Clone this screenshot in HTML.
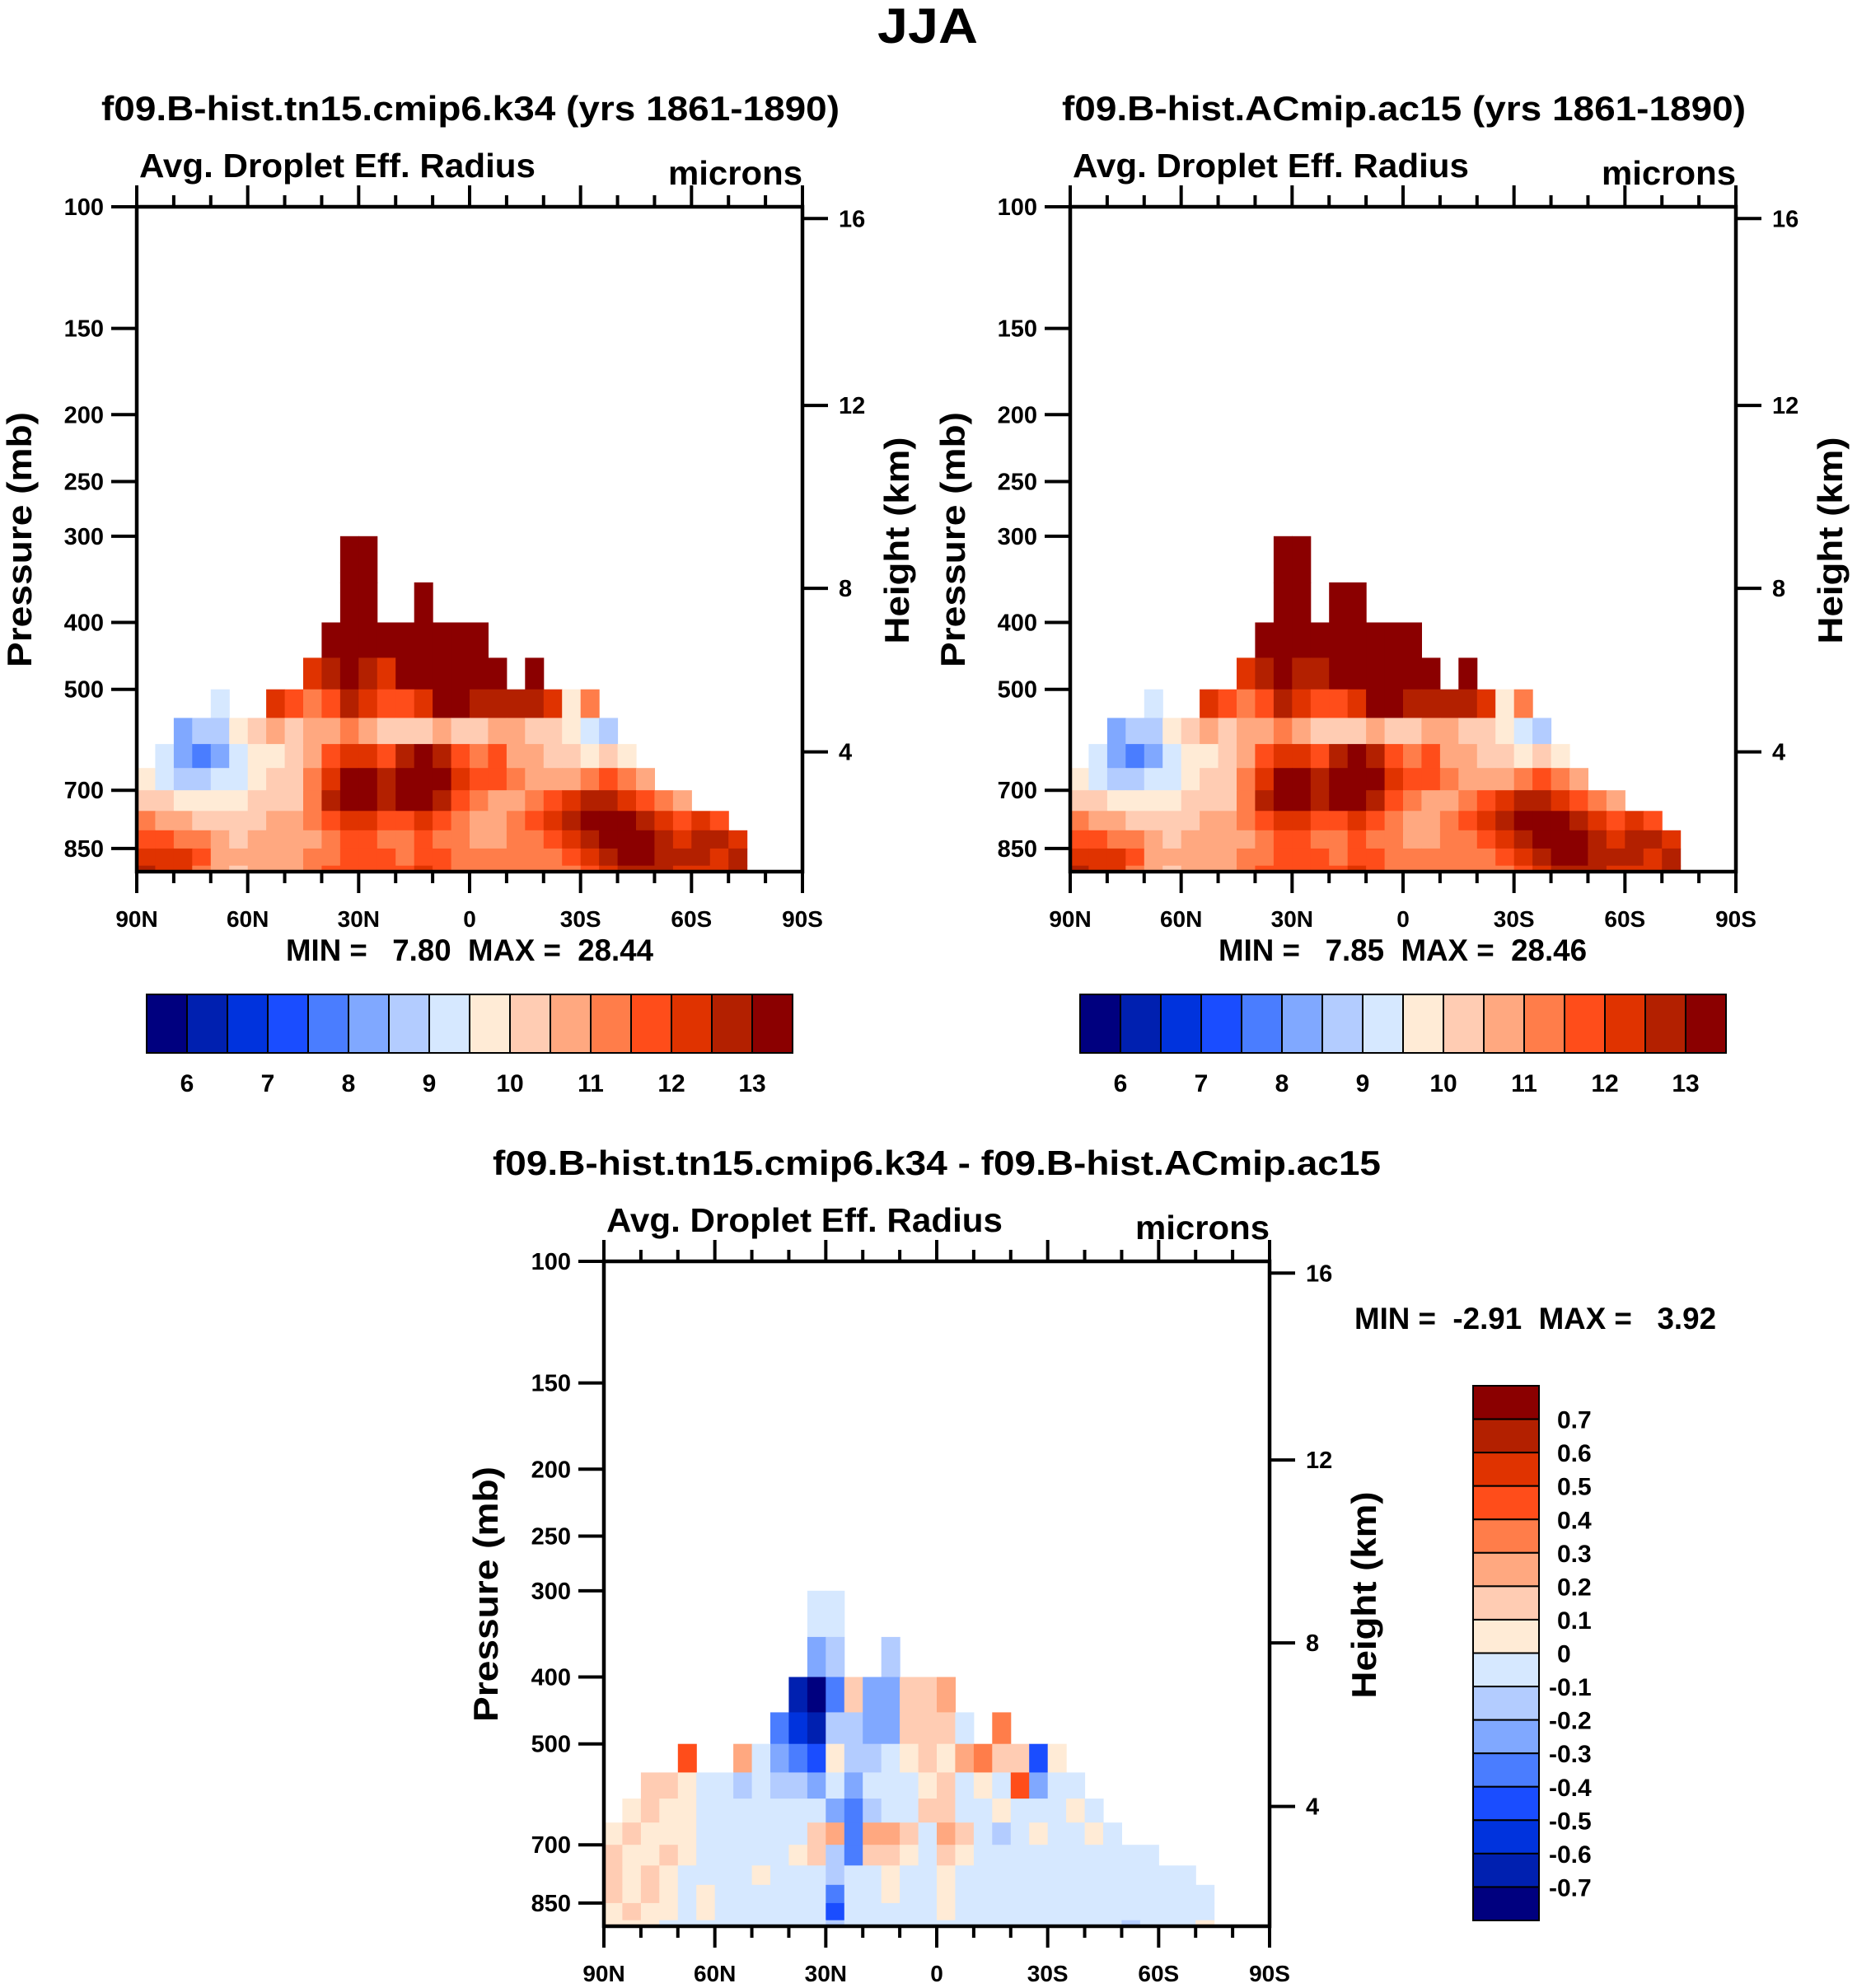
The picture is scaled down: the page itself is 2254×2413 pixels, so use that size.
<!DOCTYPE html>
<html><head><meta charset="utf-8"><style>
html,body{margin:0;padding:0;background:#fff}
svg{display:block}
text{font-family:"Liberation Sans",Arial,sans-serif;font-weight:bold;fill:#000;white-space:pre}
</style></head><body>
<svg id="root" width="2254" height="2413" viewBox="0 0 2254 2413" xmlns="http://www.w3.org/2000/svg" xml:space="preserve">
<rect width="2254" height="2413" fill="#fff"/>
<text x="1126" y="52" font-size="60" text-anchor="middle" textLength="122" lengthAdjust="spacingAndGlyphs">JJA</text>
</svg>
<script>
// ---------- data ----------
const lats = [87.5,82.5,77.5,72.5,67.5,62.5,57.5,52.5,47.5,42.5,37.5,32.5,27.5,22.5,17.5,12.5,7.5,2.5,-2.5,-7.5,-12.5,-17.5,-22.5,-27.5,-32.5,-37.5,-42.5,-47.5,-52.5,-57.5,-62.5,-67.5,-72.5,-77.5,-82.5,-87.5];
const pEdges = [300,350,400,450,500,550,600,650,700,750,800,850,900,919];
const pTicks = [100,150,200,250,300,400,500,700,850];
const heightTicks = [4,8,12,16];
const heightPressure = [616,357,194,104];
const latTicks = [90,60,30,0,-30,-60,-90];
const latTickLabels = ["90N","60N","30N","0","30S","60S","90S"];
const absLevelLabels = ["6","7","8","9","10","11","12","13"];
const diffLevelLabels = ["0.7","0.6","0.5","0.4","0.3","0.2","0.1","0","-0.1","-0.2","-0.3","-0.4","-0.5","-0.6","-0.7"];
const n = null;
const field1 = [
[n,n,n,n,n,n,n,n,n,n,n,15,15,n,n,n,n,n,n,n,n,n,n,n,n,n,n,n,n,n,n,n,n,n,n,n],
[n,n,n,n,n,n,n,n,n,n,n,15,15,n,n,15,n,n,n,n,n,n,n,n,n,n,n,n,n,n,n,n,n,n,n,n],
[n,n,n,n,n,n,n,n,n,n,14,15,15,14,15,15,15,15,15,n,n,n,n,n,n,n,n,n,n,n,n,n,n,n,n,n],
[n,n,n,n,n,n,n,n,n,12,12.5,13,12.5,12,13.5,14,14.5,15,14.5,14,n,13,n,n,n,n,n,n,n,n,n,n,n,n,n,n],
[n,n,n,n,9,n,n,12,11.5,11,11.5,12.5,12,11.5,11.5,12,13,13.5,12.5,12.5,12.5,12.5,12,9.5,11,n,n,n,n,n,n,n,n,n,n,n],
[n,n,8,8.5,8.5,9.5,10,10.5,10,10.5,10.5,11,10.5,10,10.2,10,10.5,10,10.3,10.5,10.5,10.3,10.2,9.5,9,8.7,n,n,n,n,n,n,n,n,n,n],
[n,9,8,7.8,8.2,9,9.5,9.8,10.2,10.8,11.5,12,12,11.5,12.5,13,12.5,11.5,11,11.5,10.7,10.5,10.3,10,9.8,10,9.7,n,n,n,n,n,n,n,n,n],
[9.5,9,8.6,8.7,9,9.3,9.8,10,10.3,11,12,13.2,13.5,12.5,13.5,14,13.5,12,11.5,11.5,11,10.7,10.5,10.7,11,11.5,11,10.5,n,n,n,n,n,n,n,n],
[10,10,9.8,9.5,9.6,9.8,10,10.3,10.4,11,12.5,14,13.5,12.5,13,13.5,12.5,11.5,11,10.8,10.8,11,11.5,12,12.5,12.8,12,11.5,11,10.8,n,n,n,n,n,n],
[11,10.8,10.5,10.3,10.2,10.3,10.4,10.5,10.6,11,11.5,12,12,11.5,11.5,12,11.5,11,10.8,10.8,11,11.5,12,12.5,13.5,14,13.5,12.5,12,11.8,12,11.5,n,n,n,n],
[11.5,11.5,11.3,11,10.5,10.4,10.5,10.6,10.6,10.8,11,11.5,11.8,11.3,11,11.5,11.2,11,10.8,10.8,11,11.2,11.5,12,12.8,13.5,14,13.5,12.5,12.3,12.5,12.5,12.3,n,n,n],
[12.3,12.2,12,11.5,10.8,10.5,10.5,10.6,10.7,11,11.2,11.5,11.8,11.5,11.3,11.5,11.5,11.3,11,11,11,11,11.2,11.5,12,12.5,13,13.2,12.8,12.5,12.5,12.3,12.6,n,n,n],
[12.5,12.3,12,11.3,10.5,10.2,10.5,10.6,10.7,11,11.5,11.8,11.8,11.5,11.8,12.3,11.8,11.3,11,11,11,11,11,11.3,11.5,12,12.5,12.5,12.5,12.3,12.3,12.3,12.8,n,n,n]
];
const field2 = [
[n,n,n,n,n,n,n,n,n,n,n,15,15,n,n,n,n,n,n,n,n,n,n,n,n,n,n,n,n,n,n,n,n,n,n,n],
[n,n,n,n,n,n,n,n,n,n,n,15,15,n,15,15,n,n,n,n,n,n,n,n,n,n,n,n,n,n,n,n,n,n,n,n],
[n,n,n,n,n,n,n,n,n,n,14,15,15,15,15,15,15,15,15,n,n,n,n,n,n,n,n,n,n,n,n,n,n,n,n,n],
[n,n,n,n,n,n,n,n,n,12,12.5,13,12.5,12.5,13.5,14,14.5,15,14.5,14,n,13,n,n,n,n,n,n,n,n,n,n,n,n,n,n],
[n,n,n,n,9,n,n,12,11.5,11,11.5,12.5,12,11.5,11.5,12,13,13.5,12.5,12.5,12.5,12.5,12,9.5,11,n,n,n,n,n,n,n,n,n,n,n],
[n,n,8,8.5,8.5,9.5,10,10.5,10,10.5,10.5,11,10.5,10,10.2,10,10.5,10,10.3,10.5,10.5,10.3,10.2,9.5,9,8.7,n,n,n,n,n,n,n,n,n,n],
[n,9,8,7.8,8.2,9,9.5,9.8,10.2,10.8,11.5,12,12,11.6,12.5,13,12.5,11.5,11,11.5,10.7,10.5,10.3,10,9.8,10,9.7,n,n,n,n,n,n,n,n,n],
[9.5,9,8.6,8.7,9,9.3,9.8,10,10.3,11,12,13.2,13.4,12.6,13.5,14,13.5,12,11.5,11.5,11,10.7,10.5,10.7,11,11.5,11,10.5,n,n,n,n,n,n,n,n],
[10,10,9.8,9.5,9.6,9.8,10,10.3,10.4,11,12.5,14,13.5,12.6,13,13.5,12.5,11.5,11,10.8,10.8,11,11.5,12,12.5,12.8,12,11.5,11,10.8,n,n,n,n,n,n],
[11,10.8,10.5,10.3,10.2,10.3,10.4,10.5,10.6,11,11.5,12,12.1,11.5,11.5,12,11.5,11,10.8,10.8,11,11.5,12,12.5,13.5,14,13.5,12.5,12,11.8,12,11.5,n,n,n,n],
[11.5,11.5,11.3,11,10.5,10.4,10.5,10.6,10.6,10.8,11,11.5,11.9,11.3,11,11.5,11.2,11,10.8,10.8,11,11.2,11.5,12,12.8,13.5,14,13.5,12.5,12.3,12.5,12.5,12.3,n,n,n],
[12.3,12.2,12,11.5,10.8,10.5,10.5,10.6,10.7,11,11.2,11.5,11.9,11.5,11.3,11.5,11.5,11.3,11,11,11,11,11.2,11.5,12,12.5,13,13.2,12.8,12.5,12.5,12.3,12.6,n,n,n],
[12.5,12.3,12,11.3,10.5,10.2,10.5,10.6,10.7,11,11.5,11.8,11.8,11.5,11.8,12.3,11.8,11.3,11,11,11,11,11,11.3,11.5,12,12.5,12.5,12.5,12.3,12.3,12.3,12.8,n,n,n]
];
const fieldDiff = [
[n,n,n,n,n,n,n,n,n,n,n,-0.05,-0.05,n,n,n,n,n,n,n,n,n,n,n,n,n,n,n,n,n,n,n,n,n,n,n],
[n,n,n,n,n,n,n,n,n,n,n,-0.3,-0.15,n,n,-0.2,n,n,n,n,n,n,n,n,n,n,n,n,n,n,n,n,n,n,n,n],
[n,n,n,n,n,n,n,n,n,n,-0.7,-0.8,-0.4,0.15,-0.3,-0.3,0.1,0.15,0.2,n,n,n,n,n,n,n,n,n,n,n,n,n,n,n,n,n],
[n,n,n,n,n,n,n,n,n,-0.4,-0.6,-0.7,-0.2,-0.15,-0.25,-0.3,0.15,0.15,0.1,-0.1,n,0.3,n,n,n,n,n,n,n,n,n,n,n,n,n,n],
[n,n,n,n,0.4,n,n,0.2,-0.1,-0.25,-0.4,-0.5,0.05,-0.15,-0.15,-0.05,0.05,0.1,0.05,0.2,0.3,0.15,0.1,-0.5,0.05,n,n,n,n,n,n,n,n,n,n,n],
[n,n,0.1,0.1,0.05,-0.05,-0.1,-0.15,-0.1,-0.15,-0.2,-0.25,-0.1,-0.3,-0.1,-0.05,-0.05,0.05,0.1,-0.05,0.05,-0.05,0.4,-0.25,-0.05,-0.1,n,n,n,n,n,n,n,n,n,n],
[n,0.05,0.1,0.05,0.05,-0.05,-0.05,-0.1,-0.1,-0.1,-0.1,-0.05,-0.25,-0.35,-0.15,-0.05,-0.05,0.1,0.15,-0.05,-0.05,0.05,-0.05,-0.05,-0.05,0.05,-0.05,n,n,n,n,n,n,n,n,n],
[0.05,0.1,0.05,0.05,0.05,-0.05,-0.05,-0.05,-0.1,-0.05,-0.05,0.15,0.2,-0.4,0.2,0.2,0.15,-0.05,0.2,0.1,-0.05,-0.15,-0.05,0.05,-0.05,-0.05,0.05,-0.05,n,n,n,n,n,n,n,n],
[0.1,0.05,0.05,0.1,0.05,-0.05,-0.05,-0.05,-0.05,-0.05,0.05,0.1,-0.15,-0.35,0.1,0.1,0.05,-0.05,0.1,0.05,-0.05,-0.1,-0.05,-0.05,-0.05,-0.05,-0.05,-0.05,-0.1,-0.05,n,n,n,n,n,n],
[0.1,0.05,0.1,0.05,-0.05,-0.05,-0.05,-0.05,0.05,-0.05,-0.05,-0.05,-0.2,-0.1,-0.05,0.05,-0.05,-0.05,0.05,-0.05,-0.05,-0.05,-0.05,-0.05,-0.05,-0.05,-0.05,-0.05,-0.05,-0.05,-0.05,-0.1,n,n,n,n],
[0.1,0.05,0.1,0.05,-0.05,0.05,-0.05,-0.05,-0.05,-0.05,-0.05,-0.05,-0.35,-0.1,-0.05,0.05,-0.05,-0.05,0.05,-0.05,-0.05,-0.05,-0.05,-0.05,-0.05,-0.05,-0.05,-0.05,-0.05,-0.05,-0.05,-0.05,-0.05,n,n,n],
[0.05,0.1,0.05,0.05,-0.05,0.05,-0.05,-0.05,-0.05,-0.05,-0.05,-0.05,-0.45,-0.1,-0.05,-0.05,-0.05,-0.05,0.05,-0.05,-0.05,-0.05,-0.05,-0.05,-0.05,-0.05,-0.05,-0.05,-0.1,-0.05,-0.05,-0.05,-0.05,n,n,n],
[0.05,0.05,0.05,-0.05,-0.05,-0.05,-0.05,-0.05,-0.05,-0.05,-0.05,-0.05,-0.15,-0.05,-0.05,-0.05,-0.05,-0.05,-0.05,-0.05,-0.05,-0.05,-0.05,-0.05,-0.05,-0.05,-0.05,-0.05,-0.15,-0.05,-0.05,-0.05,0.05,n,n,n]
];
// ---------- drawing ----------
const COLORS = ["#00007f","#0020b0","#0033dd","#1a4dff","#4a7dff","#80a8ff","#b3ccff","#d6e8ff","#ffebd6","#ffccb3","#ffa880","#ff7d4a","#ff4d1a","#e03300","#b32000","#8b0000"];
const NS = "http://www.w3.org/2000/svg";
const root = document.getElementById('root');
function el(tag, attrs, parent){const e=document.createElementNS(NS,tag);for(const k in attrs)e.setAttribute(k,attrs[k]);(parent||root).appendChild(e);return e;}
function txt(parent,x,y,s,size,anchor,len){const t=el('text',{x:x,y:y,'font-size':size,'text-anchor':anchor||'start'},parent);if(len){t.setAttribute('textLength',len);t.setAttribute('lengthAdjust','spacingAndGlyphs');}t.textContent=s;return t;}
function binAbs(v){return Math.max(0,Math.min(15,Math.floor((v-5.5)/0.5)));}
function binDiff(v){return Math.max(0,Math.min(15,Math.floor(Math.round(v*1000)/100)+8));}
const W=808,H=807,DEC=838;

function panel(id,bx,by,grid,binFn,t){
  const g=el('g',{});
  
  
  const xS=lat=>bx+(90-lat)/180*W;
  const yS=p=>Math.min(by+H,by+DEC*Math.log10(p/100));
  const cells=el('g',{},g);
  
  
  for(let r=0;r<grid.length;r++){for(let c=0;c<lats.length;c++){const v=grid[r][c];if(v===null)continue;
    const x0=xS(lats[c]+2.5),x1=xS(lats[c]-2.5),y0=yS(pEdges[r]),y1=yS(pEdges[r+1]);
    const rc=el('rect',{x:x0.toFixed(1),y:y0.toFixed(1),width:(x1-x0+0.6).toFixed(1),height:(y1-y0+0.6).toFixed(1),fill:COLORS[binFn(v)]},cells);
    
    
  }}
  const ax=el('rect',{x:bx,y:by,width:W,height:H,fill:'none',stroke:'#000','stroke-width':4.5},g);
  
  
  const tk=el('g',{stroke:'#000','stroke-width':4},g);
  pTicks.forEach(p=>{const y=yS(p);el('line',{x1:bx-31,y1:y,x2:bx,y2:y},tk);
    const l=txt(g,bx-40,y+10,String(p),29,'end');});
  heightPressure.forEach((p,i)=>{const y=yS(p);el('line',{x1:bx+W,y1:y,x2:bx+W+31,y2:y},tk);
    const l=txt(g,bx+W+44,y+10,String(heightTicks[i]),29,'start');});
  for(let lat=90;lat>=-90;lat-=10){const x=xS(lat);const maj=lat%30===0;const L=maj?26:14;
    el('line',{x1:x,y1:by,x2:x,y2:by-L},tk);el('line',{x1:x,y1:by+H,x2:x,y2:by+H+L},tk);}
  latTicks.forEach((lat,i)=>{const l=txt(g,xS(lat),by+H+67,latTickLabels[i],28,'middle');});
  let a=txt(g,t.titleX,t.titleY,t.title,42,'start',t.titleW);
  a=txt(g,bx+3,by-36,'Avg. Droplet Eff. Radius',41,'start',481);
  a=txt(g,bx+W,by-27,'microns',41,'end',163);
  a=txt(g,0,0,'Pressure (mb)',42,'middle',310);a.setAttribute('transform',`translate(${t.pX},${by+404}) rotate(-90)`);
  a=txt(g,0,0,'Height (km)',42,'middle',251);a.setAttribute('transform',`translate(${t.hX},${by+405}) rotate(-90)`);
  a=txt(g,t.mmX,t.mmY,t.mm,37,'start',t.mmW);
}
function hbar(x,y,w,h){
  const g=el('g',{});
  
  
  const bw=w/16;
  for(let i=0;i<16;i++){const r=el('rect',{x:x+i*bw,y:y,width:bw,height:h,fill:COLORS[i],stroke:'#000','stroke-width':2},g);
    }
  absLevelLabels.forEach((s,k)=>{const l=txt(g,x+(1+2*k)*bw,y+h+47,s,30,'middle');});
}
function vbar(x,y,w,h){
  const g=el('g',{});
  
  
  const bh=h/16;
  for(let i=0;i<16;i++){const r=el('rect',{x:x,y:y+i*bh,width:w,height:bh,fill:COLORS[15-i],stroke:'#000','stroke-width':2},g);
    }
  diffLevelLabels.forEach((s,k)=>{const l=txt(g,s.startsWith('-')?x+w+12:x+w+22,y+(k+1)*bh+11,s,30,'start');});
}
panel('panel-k34',166,251,field1,binAbs,{title:'f09.B-hist.tn15.cmip6.k34 (yrs 1861-1890)',titleX:123,titleY:146,titleW:896,pX:38,hX:1103,mm:'MIN =   7.80  MAX =  28.44',mmX:347,mmY:1166,mmW:446});
panel('panel-ac15',1299,251,field2,binAbs,{title:'f09.B-hist.ACmip.ac15 (yrs 1861-1890)',titleX:1289,titleY:146,titleW:830,pX:1171,hX:2236,mm:'MIN =   7.85  MAX =  28.46',mmX:1479,mmY:1166,mmW:447});
panel('panel-diff',733,1531,fieldDiff,binDiff,{title:'f09.B-hist.tn15.cmip6.k34 - f09.B-hist.ACmip.ac15',titleX:598,titleY:1426,titleW:1078,pX:604,hX:1670,mm:'MIN =  -2.91  MAX =   3.92',mmX:1644,mmY:1613,mmW:439});
hbar(178,1207,784,71);
hbar(1311,1207,784,71);
vbar(1788,1682,80,649);
</script>
</body></html>
